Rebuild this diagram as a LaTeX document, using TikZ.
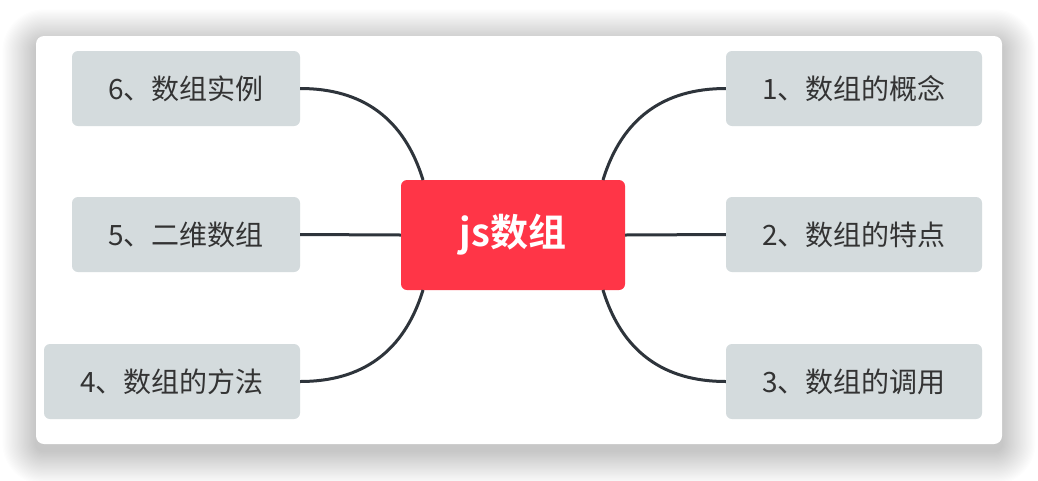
\documentclass[tikz,border=0pt]{standalone}
\usepackage{fontspec}
\newfontfamily\cjk{Noto Sans CJK SC}[BoldFont={Noto Sans CJK SC Bold}]
\definecolor{topicgray}{HTML}{D4DBDD}
\definecolor{rootred}{HTML}{FF3547}
\definecolor{linedark}{HTML}{2E343B}
\definecolor{txtdark}{HTML}{333333}
\tikzset{
  topic/.style={fill=topicgray, rounded corners=6pt, minimum height=75pt, inner sep=0pt,
    font=\cjk\fontsize{28}{32}\selectfont, text=txtdark},
  rootbox/.style={fill=rootred, rounded corners=6pt, minimum width=224pt, minimum height=110pt,
    inner sep=0pt, font=\cjk\bfseries\fontsize{38}{44}\selectfont, text=white},
  branch/.style={draw=linedark, line width=3pt}
}
\begin{document}
\begin{tikzpicture}[x=1pt,y=-1pt]
\useasboundingbox (0,0) rectangle (1038,480);
\fill[white] (0,0) rectangle (1038,480);
% card shadow
\foreach \i in {1,...,28}{
  \pgfmathsetmacro{\r}{8+\i*1.2}
  \fill[black,opacity=0.0065,rounded corners=\r pt] (36-\i*1.2,36-\i*1.2+7) rectangle (1002+\i*1.2,444+\i*1.2+7);
}
\fill[white,rounded corners=8pt] (36,36) rectangle (1002,444);
% nodes
\node[rootbox] (root) at (513,235) {js数组};
\node[topic, minimum width=256pt] (n1) at (854,88.5) {1、数组的概念};
\node[topic, minimum width=256pt] (n2) at (854,234.5) {2、数组的特点};
\node[topic, minimum width=256pt] (n3) at (854,381.5) {3、数组的调用};
\node[topic, minimum width=256pt] (n4) at (172,381.5) {4、数组的方法};
\node[topic, minimum width=228pt] (n5) at (186,234.5) {5、二维数组};
\node[topic, minimum width=228pt] (n6) at (186,88.5) {6、数组实例};
% anchor points on root
\coordinate (rtr) at (603,180);
\coordinate (rbr) at (603,290);
\coordinate (rtl) at (423,180);
\coordinate (rbl) at (423,290);
% connectors
\draw[branch] (rtr) .. controls (622,118) and (664,88.5) .. (n1.west);
\draw[branch] (root.east) -- (n2.west);
\draw[branch] (rbr) .. controls (622,352) and (664,381.5) .. (n3.west);
\draw[branch] (rbl) .. controls (404,352) and (362,381.5) .. (n4.east);
\draw[branch] (root.west) -- (n5.east);
\draw[branch] (rtl) .. controls (404,118) and (362,88.5) .. (n6.east);
\end{tikzpicture}
\end{document}
